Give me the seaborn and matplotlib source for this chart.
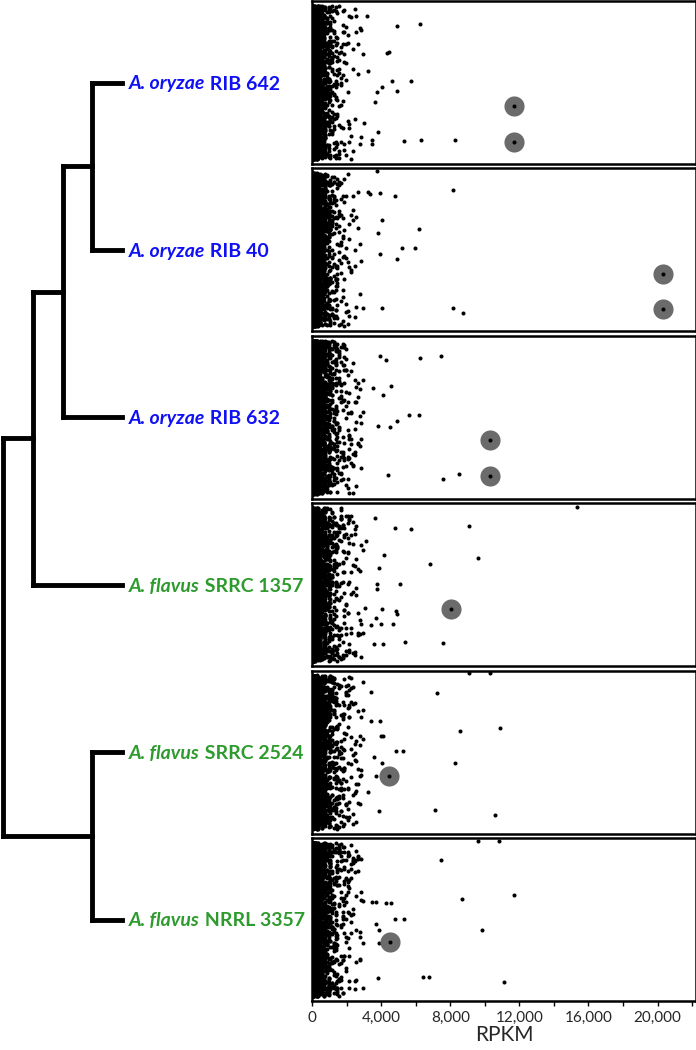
import numpy as np
import pandas as pd
import matplotlib
matplotlib.use("Agg")
import matplotlib.pyplot as plt
import seaborn as sns
from matplotlib.ticker import MultipleLocator, FuncFormatter

sns.set_theme(style="white")
plt.rcParams["font.family"] = ["Lato", "DejaVu Sans"]

# ---------------- data ----------------
species = ["A. oryzae", "A. oryzae", "A. oryzae", "A. flavus", "A. flavus", "A. flavus"]
strain_ids = ["RIB 642", "RIB 40", "RIB 632", "SRRC 1357", "SRRC 2524", "NRRL 3357"]
clade = ["oryzae", "oryzae", "oryzae", "flavus", "flavus", "flavus"]

# tree: (child_a, child_b, level); leaves 0..5 sit at level 4, internal nodes numbered 6..
tree_merges = [(0, 1, 3), (6, 2, 2), (7, 3, 1), (4, 5, 3), (8, 9, 0)]

# bulk of genes: counts of genes per 100-RPKM bin (0-3000)
bulk_bin_rpkm = np.arange(50, 3000, 100)
bulk_counts = [
    [2000, 700, 350, 220, 150, 110, 80, 60, 45, 35, 28, 22, 18, 15, 12, 10, 8, 7, 6, 5, 4, 4, 3, 3, 2, 2, 2, 1, 1, 1],
    [2000, 700, 360, 230, 160, 115, 85, 62, 48, 37, 30, 24, 19, 16, 13, 11, 9, 8, 6, 5, 4, 4, 3, 3, 3, 2, 2, 2, 1, 1],
    [2000, 700, 360, 230, 160, 120, 90, 70, 55, 45, 38, 30, 25, 20, 17, 15, 13, 11, 10, 9, 8, 7, 6, 5, 5, 4, 4, 3, 3, 2],
    [2000, 700, 360, 230, 160, 120, 90, 70, 55, 45, 38, 30, 25, 20, 17, 15, 13, 11, 10, 9, 8, 7, 6, 5, 5, 4, 4, 3, 3, 2],
    [2000, 700, 370, 240, 170, 125, 95, 75, 60, 48, 40, 32, 27, 22, 19, 16, 14, 12, 11, 10, 9, 8, 7, 6, 5, 5, 4, 4, 3, 3],
    [2000, 700, 370, 240, 170, 125, 95, 75, 60, 48, 40, 32, 27, 22, 19, 16, 14, 12, 11, 10, 9, 8, 7, 6, 5, 5, 4, 4, 3, 3],
]

# high-expression genes: RPKM and lane within the strip (0 = top, 1 = bottom)
outlier_rpkm = [
    [3150, 4930, 6240, 2750, 2850, 4350, 4460, 3230, 4600, 5740, 4020, 3770, 4930, 3620, 3020, 3790, 3440, 3440, 5300, 6320, 8270],
    [3750, 8180, 4790, 3920, 3200, 3320, 4060, 6200, 3790, 5220, 5940, 3920, 4890, 4060, 8140, 8740],
    [3920, 4290, 6230, 7480, 4540, 4120, 3540, 5590, 6200, 4930, 4500, 3830, 4370, 7560, 8490],
    [15330, 3650, 4810, 5740, 9080, 3110, 4160, 9590, 6840, 3890, 5080, 3720, 3720, 4870, 4920, 4060, 3070, 3980, 3400, 4700, 3690, 5360, 7580, 4080, 3580],
    [9100, 10300, 7250, 3380, 8560, 10880, 3900, 3420, 4000, 4120, 4830, 5280, 8270, 4060, 3580, 3690, 3250, 3890, 7110, 10610],
    [9590, 10800, 7440, 8680, 11690, 3480, 3690, 4270, 4540, 4780, 5340, 9840, 3690, 3890, 3890, 3830, 6420, 6780, 11130],
]
outlier_lane = [
    [0.092, 0.153, 0.143, 0.165, 0.175, 0.318, 0.314, 0.428, 0.489, 0.489, 0.528, 0.557, 0.555, 0.620, 0.748, 0.801, 0.854, 0.879, 0.861, 0.850, 0.852],
    [0.016, 0.135, 0.170, 0.153, 0.143, 0.160, 0.315, 0.371, 0.399, 0.491, 0.491, 0.528, 0.558, 0.859, 0.855, 0.886],
    [0.123, 0.147, 0.135, 0.125, 0.309, 0.364, 0.323, 0.485, 0.485, 0.521, 0.558, 0.552, 0.857, 0.877, 0.849],
    [0.022, 0.093, 0.152, 0.158, 0.141, 0.234, 0.315, 0.335, 0.374, 0.400, 0.493, 0.495, 0.527, 0.662, 0.679, 0.648, 0.644, 0.741, 0.749, 0.743, 0.707, 0.850, 0.855, 0.861, 0.861],
    [0.014, 0.012, 0.135, 0.131, 0.372, 0.350, 0.311, 0.311, 0.403, 0.403, 0.493, 0.493, 0.567, 0.567, 0.532, 0.646, 0.744, 0.861, 0.857, 0.886],
    [0.020, 0.017, 0.138, 0.374, 0.352, 0.392, 0.392, 0.401, 0.401, 0.494, 0.494, 0.565, 0.530, 0.565, 0.646, 0.860, 0.855, 0.855, 0.884],
]

# highlighted genes (grey halo)
highlight_rpkm = [[11690, 11690], [20290, 20290], [10300, 10300], [8060], [4450], [4520]]
highlight_lane = [[0.647, 0.862], [0.646, 0.865], [0.640, 0.859], [0.650], [0.648], [0.638]]

x_max = 22200
x_ticks = [0, 4000, 8000, 12000, 16000, 20000]

# ---------------- style ----------------
colors = {"oryzae": "#1010F5", "flavus": "#2E9B2E"}
halo_color = "#6B6B6B"
label_size = 14

W, H = 696, 1050
fig = plt.figure(figsize=(W / 100, H / 100), dpi=100)

panel_left_px, panel_right_px = 312.3, 695.5
panel_h_px, panel_step_px, panel_top0 = 163.0, 167.4, 1.0

np.random.seed(7)
axes = []
centers_px = []
for i in range(6):
    top = panel_top0 + i * panel_step_px
    centers_px.append(top + panel_h_px / 2)
    ax = fig.add_axes([panel_left_px / W, 1 - (top + panel_h_px) / H,
                       (panel_right_px - panel_left_px) / W, panel_h_px / H])
    bulk = np.repeat(bulk_bin_rpkm, bulk_counts[i])
    sns.stripplot(x=bulk, orient="h", jitter=0.47, size=2.9, color="black",
                  linewidth=0, ax=ax, zorder=2)
    df_o = pd.DataFrame({"rpkm": outlier_rpkm[i], "lane": np.array(outlier_lane[i]) - 0.5})
    sns.scatterplot(data=df_o, x="rpkm", y="lane", s=8.5, color="black",
                    linewidth=0, ax=ax, zorder=3, legend=False)
    df_h = pd.DataFrame({"rpkm": highlight_rpkm[i], "lane": np.array(highlight_lane[i]) - 0.5})
    sns.scatterplot(data=df_h, x="rpkm", y="lane", s=210, color=halo_color,
                    linewidth=0, ax=ax, zorder=4, legend=False)
    sns.scatterplot(data=df_h, x="rpkm", y="lane", s=8.5, color="black",
                    linewidth=0, ax=ax, zorder=5, legend=False)
    ax.set_xlim(0, x_max)
    ax.set_ylim(0.5, -0.5)
    ax.set_yticks([])
    ax.set_xlabel("")
    ax.set_ylabel("")
    for s in ax.spines.values():
        s.set_visible(True)
        s.set_color("black")
        s.set_linewidth(1.8)
    if i < 5:
        ax.set_xticks([])
    else:
        ax.set_xticks(x_ticks)
        ax.xaxis.set_minor_locator(MultipleLocator(2000))
        ax.xaxis.set_major_formatter(FuncFormatter(lambda v, p: f"{int(v):,}"))
        ax.tick_params(axis="x", which="both", direction="out", bottom=True,
                       length=3.5, width=1, color="black", labelsize=11, pad=3.5)
        ax.set_xlabel("RPKM", fontsize=15, labelpad=0)
    axes.append(ax)

# ---------------- dendrogram ----------------
unit_px = 29.75
tax = fig.add_axes([0, 0, 1, 1], zorder=-1)
tax.set_xlim(-3 / unit_px, (W - 3) / unit_px)
tax.set_ylim(H, 0)
tax.axis("off")

node_x = {k: 4 for k in range(6)}
node_y = {k: centers_px[k] for k in range(6)}
for j, (a, b, lvl) in enumerate(tree_merges):
    n = 6 + j
    node_x[n] = lvl
    node_y[n] = (node_y[a] + node_y[b]) / 2
    lw = 3.5
    tax.plot([lvl, lvl], [node_y[a], node_y[b]], color="black", lw=lw, solid_capstyle="projecting")
    for c in (a, b):
        tax.plot([lvl, node_x[c]], [node_y[c], node_y[c]], color="black", lw=lw,
                 solid_capstyle="projecting")

label_x = 4 + 7 / unit_px
cap_half_px = 0.36 * label_size * 100 / 72
for k in range(6):
    col = colors[clade[k]]
    t = tax.text(label_x, node_y[k] + cap_half_px, species[k], color=col, fontsize=label_size,
                 fontweight="bold", fontstyle="italic", va="baseline", ha="left")
    tax.annotate(" " + strain_ids[k], xy=(1, 0), xycoords=t, va="bottom", ha="left",
                 color=col, fontsize=label_size, fontweight="bold")

fig.savefig("out.png", dpi=100)
